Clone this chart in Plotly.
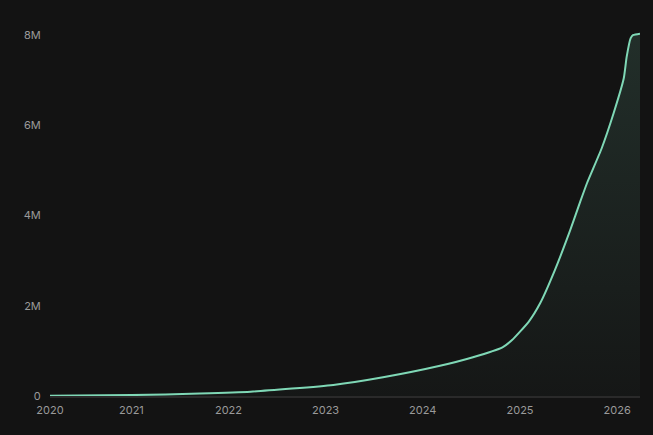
import plotly.graph_objects as go

dates = ["2020-03-01", "2021-01-01", "2021-09-15", "2022-03-25", "2023-01-30",
         "2023-08-05", "2024-03-06", "2024-07-08", "2024-10-27", "2024-12-02",
         "2025-02-03", "2025-03-18", "2025-05-12", "2025-07-09", "2025-08-15",
         "2025-09-10", "2025-11-04", "2025-12-19", "2026-01-26", "2026-02-06",
         "2026-02-21", "2026-03-03", "2026-03-28"]
values = [0.007, 0.02, 0.055, 0.095, 0.244,
          0.415, 0.67, 0.86, 1.08, 1.24,
          1.65, 2.06, 2.79, 3.68, 4.30,
          4.72, 5.49, 6.27, 7.04, 7.52,
          7.93, 8.00, 8.03]
values = [v * 1e6 for v in values]

x_tickvals = ["2020-03-01", "2021-01-01", "2022-01-01", "2023-01-01",
              "2024-01-01", "2025-01-01", "2026-01-01"]
x_ticktext = ["2020", "2021", "2022", "2023", "2024", "2025", "2026"]
y_tickvals = [0, 2e6, 4e6, 6e6, 8e6]
y_ticktext = ["0", "2M", "4M", "6M", "8M"]

line_color = "#7fd8b6"

fig = go.Figure()
fig.add_trace(go.Scatter(
    x=dates, y=values, mode="lines",
    line=dict(color=line_color, width=2, shape="spline", smoothing=0.5),
    fill="tozeroy",
    fillgradient=dict(type="vertical",
                      colorscale=[[0, "rgba(127,216,182,0.02)"],
                                  [1, "rgba(127,216,182,0.14)"]]),
    hoverinfo="skip",
))

fig.update_layout(
    width=653, height=435,
    margin=dict(l=50, r=13, t=20, b=39),
    paper_bgcolor="#131313", plot_bgcolor="#131313",
    showlegend=False,
    font=dict(family="Inter, Noto Sans, sans-serif", size=11, color="#9a9a9a"),
    xaxis=dict(
        type="date", range=["2020-03-01", "2026-03-28"],
        tickvals=x_tickvals, ticktext=x_ticktext,
        showgrid=False, zeroline=False,
        showline=True, linecolor="#2a2a2a", linewidth=2,
        ticks="outside", ticklen=3, tickcolor="rgba(0,0,0,0)",
        tickfont=dict(size=11, color="#9a9a9a"),
    ),
    yaxis=dict(
        range=[0, 8.332e6],
        tickvals=y_tickvals, ticktext=y_ticktext,
        showgrid=False, zeroline=False, showline=False,
        ticks="outside", ticklen=6, tickcolor="rgba(0,0,0,0)",
        tickfont=dict(size=11, color="#9a9a9a"),
    ),
)

fig.write_html(
    "out.html",
    config={"displayModeBar": False},
    post_script="document.body.style.margin='0';document.body.style.padding='0';"
                "document.body.style.background='#131313';"
                "document.documentElement.style.background='#131313';",
)
